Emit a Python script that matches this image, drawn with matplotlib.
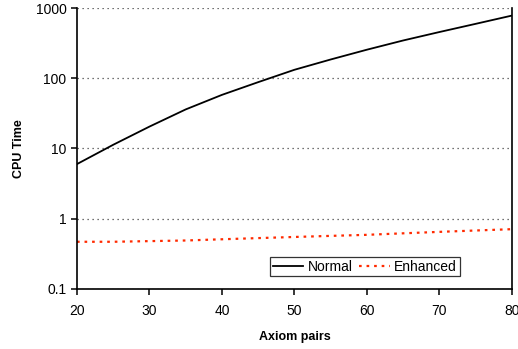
import matplotlib.pyplot as plt

plt.rcParams['font.family'] = ['Liberation Sans', 'DejaVu Sans']

axiom_pairs = [20, 25, 30, 35, 40, 45, 50, 55, 60, 65, 70, 75, 80]
normal = [6.0, 11.3, 20.5, 36, 58, 88, 132, 185, 255, 345, 455, 595, 780]
enhanced = [0.47, 0.47, 0.48, 0.49, 0.51, 0.53, 0.55, 0.57, 0.59, 0.62, 0.65, 0.68, 0.71]

fig = plt.figure(figsize=(5.18, 3.49), dpi=100)
ax = fig.add_axes([0.1486, 0.172, 0.8394, 0.805])

ax.plot(axiom_pairs, normal, color='black', lw=1.3, label='Normal')
ax.plot(axiom_pairs, enhanced, color='#ff2a00', lw=1.6, ls=(0, (1.2, 2.2)), label='Enhanced')

ax.set_yscale('log')
ax.set_ylim(0.1, 1000)
ax.set_xlim(20, 80)
ax.set_yticks([0.1, 1, 10, 100, 1000])
ax.set_yticklabels(['0.1', '1', '10', '100', '1000'])
ax.minorticks_off()
ax.set_xticks(range(20, 81, 10))

ax.yaxis.grid(True, color='#444444', ls=(0, (1, 3)), lw=0.9)
ax.spines['top'].set_visible(False)
for s in ['left', 'bottom', 'right']:
    ax.spines[s].set_linewidth(1.2)
ax.tick_params(axis='both', labelsize=10, direction='out', length=4, width=1.1)
ax.tick_params(axis='x', pad=7)

ax.set_xlabel('Axiom pairs', fontsize=9, fontweight='bold', labelpad=9)
ax.set_ylabel('CPU Time', fontsize=9, fontweight='bold', labelpad=8)

leg = ax.legend(loc='lower right', bbox_to_anchor=(0.88, 0.045), ncol=2, fontsize=10,
                frameon=True, fancybox=False, edgecolor='black', handlelength=2.2,
                handletextpad=0.3, columnspacing=0.5, borderpad=0.2, borderaxespad=0)
leg.get_frame().set_linewidth(0.9)

fig.savefig('out.png', dpi=100)
